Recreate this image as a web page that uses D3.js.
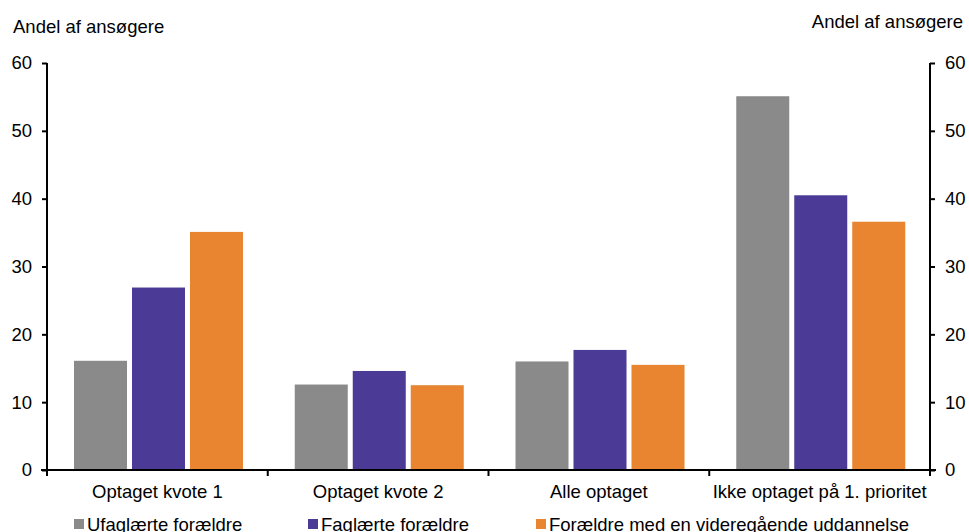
<!DOCTYPE html>
<html><head><meta charset="utf-8">
<script src="https://cdn.jsdelivr.net/npm/d3@7"></script>
<style>body{margin:0;background:#fff}text{font-family:"Liberation Sans",Arial,sans-serif;fill:#000}</style>
</head><body>
<svg id="c" width="969" height="532"></svg>
<script>
const categories = ["Optaget kvote 1","Optaget kvote 2","Alle optaget","Ikke optaget på 1. prioritet"];
const seriesNames = ["Ufaglærte forældre","Faglærte forældre","Forældre med en videregående uddannelse"];
const ufaglaerte = [16.1, 12.6, 16.0, 55.1];
const faglaerte = [26.9, 14.6, 17.7, 40.5];
const videregaaende = [35.1, 12.5, 15.5, 36.6];
const yTicks = [0,10,20,30,40,50,60];
const colors = ["#8a8a8a","#4b3b96","#e98430"];
const series = [ufaglaerte, faglaerte, videregaaende];
const FS = 18.5;

const svg = d3.select("#c");
const L = 47, R = 930, T = 63, B = 470;
const x = d3.scaleBand().domain(categories).range([L, R]).paddingInner(0).paddingOuter(0);
const x1 = d3.scaleBand().domain(d3.range(3)).range([27, 196]).paddingInner(0.086).paddingOuter(0);
const y = d3.scaleLinear().domain([0,60]).range([B, T]);

// bars
series.forEach((vals, si) => {
  svg.append("g").selectAll("rect").data(vals).join("rect")
    .attr("x", (d,i) => x(categories[i]) + x1(si))
    .attr("width", x1.bandwidth())
    .attr("y", d => y(d))
    .attr("height", d => B - y(d))
    .attr("fill", colors[si]);
});

// y axes
const la = svg.append("g").attr("transform", `translate(${L},0)`)
  .call(d3.axisLeft(y).tickValues(yTicks).tickSize(5).tickPadding(10));
const ra = svg.append("g").attr("transform", `translate(${R},0)`)
  .call(d3.axisRight(y).tickValues(yTicks).tickSize(5).tickPadding(10));
[la, ra].forEach(a => {
  a.select(".domain").attr("stroke","#000").attr("stroke-width",2).attr("d", `M0,${T}V${B}`);
  a.selectAll(".tick line").attr("stroke","#000").attr("stroke-width",2);
  a.selectAll("text").attr("font-size",FS).style("font-family","'Liberation Sans',Arial,sans-serif");
});

// x axis
const xa = svg.append("g").attr("transform", `translate(0,${B})`);
xa.append("line").attr("x1", L-6).attr("x2", R+6).attr("stroke","#000").attr("stroke-width",2);
const bounds = categories.map(c => x(c)).concat([R]);
xa.selectAll(".xt").data(bounds).join("line")
  .attr("x1", d=>d).attr("x2", d=>d).attr("y1",0).attr("y2",6)
  .attr("stroke","#000").attr("stroke-width",2);
xa.selectAll(".xl").data(categories).join("text")
  .attr("x", d => x(d) + x.bandwidth()/2).attr("y", 28)
  .attr("text-anchor","middle").attr("font-size",FS).text(d=>d);

// axis titles
svg.append("text").attr("x",13).attr("y",33).attr("font-size",FS).text("Andel af ansøgere");
svg.append("text").attr("x",963).attr("y",28).attr("text-anchor","end").attr("font-size",FS).text("Andel af ansøgere");

// legend
const legX = [74, 308, 536];
const lg = svg.append("g");
seriesNames.forEach((n,i) => {
  lg.append("rect").attr("x", legX[i]).attr("y", 519).attr("width", 10).attr("height", 10).attr("fill", colors[i]);
  lg.append("text").attr("x", legX[i]+13).attr("y", 531).attr("font-size",FS).text(n);
});
</script>
</body></html>
